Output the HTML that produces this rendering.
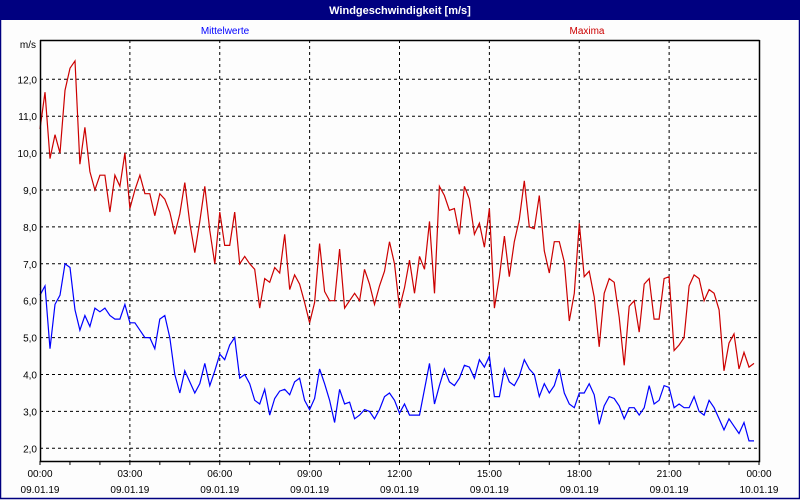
<!DOCTYPE html>
<html><head><meta charset="utf-8"><style>
body{margin:0;background:#fff;}
svg{display:block;font-family:"Liberation Sans",sans-serif;}
</style></head><body>
<svg id="chart" width="800" height="500" viewBox="0 0 800 500">
<rect x="0" y="0" width="800" height="500" fill="#fdfdfd"/>
<rect x="0.5" y="0.5" width="799" height="498" fill="none" stroke="#000080" stroke-width="1.5"/>
<rect x="0" y="0" width="800" height="20" fill="#000080"/>
<text x="400" y="14" text-anchor="middle" fill="#fff" font-size="11" font-weight="bold">Windgeschwindigkeit [m/s]</text>
<text x="225" y="34" text-anchor="middle" fill="#0000ff" font-size="10">Mittelwerte</text>
<text x="587" y="34" text-anchor="middle" fill="#cc0000" font-size="10">Maxima</text>
<text x="36" y="48" text-anchor="end" font-size="10" fill="#000">m/s</text>
<g id="grid"></g>
<g id="series"></g>
<g id="axes"></g>
</svg>
<script>
const yTicks=[2,3,4,5,6,7,8,9,10,11,12];
const xTickHours=[0,3,6,9,12,15,18,21,24];
const xTimeLabels=["00:00","03:00","06:00","09:00","12:00","15:00","18:00","21:00","00:00"];
const xDateLabels=["09.01.19","09.01.19","09.01.19","09.01.19","09.01.19","09.01.19","09.01.19","09.01.19","10.01.19"];
const maxima=[10.65,11.65,9.85,10.5,10.0,11.7,12.3,12.5,9.7,10.7,9.5,9.0,9.4,9.4,8.4,9.4,9.1,10.0,8.5,9.0,9.4,8.9,8.9,8.3,8.9,8.75,8.4,7.8,8.35,9.2,8.1,7.3,8.15,9.1,7.9,7.0,8.4,7.5,7.5,8.4,7.0,7.2,7.0,6.85,5.8,6.6,6.5,6.9,6.75,7.8,6.3,6.7,6.45,5.95,5.4,5.95,7.55,6.25,6.0,6.0,7.4,5.8,6.0,6.2,6.0,6.85,6.45,5.9,6.4,6.8,7.6,7.0,5.8,6.35,7.1,6.2,7.2,6.85,8.15,6.2,9.1,8.85,8.45,8.5,7.8,9.1,8.75,7.8,8.1,7.45,8.5,5.8,6.65,7.75,6.65,7.6,8.2,9.25,8.0,7.95,8.85,7.35,6.75,7.6,7.6,7.05,5.45,6.2,8.1,6.65,6.8,6.1,4.75,6.2,6.6,6.5,5.55,4.25,5.85,6.0,5.15,6.45,6.6,5.5,5.5,6.6,6.65,4.65,4.8,5.0,6.4,6.7,6.6,6.0,6.3,6.2,5.75,4.1,4.85,5.1,4.15,4.6,4.2,4.3];
const means=[6.15,6.4,4.7,5.9,6.15,7.0,6.9,5.75,5.2,5.6,5.3,5.8,5.7,5.8,5.6,5.5,5.5,5.9,5.4,5.4,5.2,5.0,5.0,4.7,5.5,5.6,5.0,4.0,3.5,4.1,3.8,3.5,3.75,4.3,3.7,4.1,4.55,4.4,4.8,5.0,3.9,4.0,3.75,3.3,3.2,3.6,2.9,3.35,3.55,3.6,3.45,3.8,3.9,3.3,3.05,3.35,4.15,3.75,3.3,2.7,3.6,3.2,3.25,2.8,2.9,3.05,3.0,2.8,3.05,3.4,3.5,3.3,2.95,3.2,2.9,2.9,2.9,3.6,4.3,3.2,3.7,4.15,3.8,3.7,3.9,4.25,4.2,3.9,4.4,4.2,4.5,3.4,3.4,4.15,3.8,3.7,3.95,4.4,4.15,4.0,3.4,3.75,3.5,3.7,4.15,3.5,3.2,3.1,3.5,3.5,3.75,3.45,2.65,3.15,3.4,3.35,3.15,2.8,3.1,3.1,2.9,3.1,3.7,3.2,3.3,3.7,3.65,3.1,3.2,3.1,3.1,3.4,3.0,2.9,3.3,3.1,2.8,2.5,2.8,2.6,2.4,2.7,2.2,2.2];
const stepMinutes=10;
const X0=40,X1=759,Y0=448.3,YTOP=40,YB=461;
const xScale=h=>X0+(X1-X0)*h/24;
const yScale=v=>Y0-(v-2)*36.9;
const NS="http://www.w3.org/2000/svg";
function mk(tag,attrs,parent){const e=document.createElementNS(NS,tag);for(const k in attrs)e.setAttribute(k,attrs[k]);parent.appendChild(e);return e;}
const grid=document.getElementById('grid'),axes=document.getElementById('axes'),series=document.getElementById('series');
yTicks.forEach(v=>{
  const y=yScale(v);
  const l=mk('line',{x1:X0,x2:X1,y1:y,y2:y,stroke:'#000','stroke-dasharray':'3,3','stroke-width':1},grid);
  
  
  const t=mk('text',{x:37,y:y+4,'text-anchor':'end','font-size':10,fill:'#000'},axes);
  t.textContent=v.toFixed(1).replace('.',',');
  
  
});
xTickHours.forEach((h,i)=>{
  const x=xScale(h);
  if(h>0&&h<24){
    const l=mk('line',{x1:x,x2:x,y1:YTOP,y2:YB,stroke:'#000','stroke-dasharray':'3,3','stroke-width':1},grid);
    
    
  }
  const t=mk('text',{x:x,y:477,'text-anchor':'middle','font-size':10,fill:'#000'},axes);
  t.textContent=xTimeLabels[i];
  
  
  const d=mk('text',{x:x,y:493,'text-anchor':'middle','font-size':10,fill:'#000'},axes);
  d.textContent=xDateLabels[i];
  
  
});
for(let h=0;h<=24;h++){
  const x=xScale(h);
  const tk=mk('line',{x1:x,x2:x,y1:YB,y2:YB+4,stroke:'#000'},axes);
  
  
}
const frame=mk('path',{d:`M${X0+0.5},${YTOP}V${YB+0.5}H${X1+0.5}V${YTOP}M${X0},${YTOP+0.5}H${X1+0.5}`,fill:'none',stroke:'#000','stroke-width':1.5},axes);


function line(data,color,name){
  const pts=data.map((v,i)=>xScale(i*stepMinutes/60).toFixed(1)+','+yScale(v).toFixed(1)).join(' ');
  const p=mk('polyline',{points:pts,fill:'none',stroke:color,'stroke-width':1.2},series);
  
  
}
line(maxima,'#cc0000','maxima-line');
line(means,'#0000ff','mittelwerte-line');
</script>
</body></html>
